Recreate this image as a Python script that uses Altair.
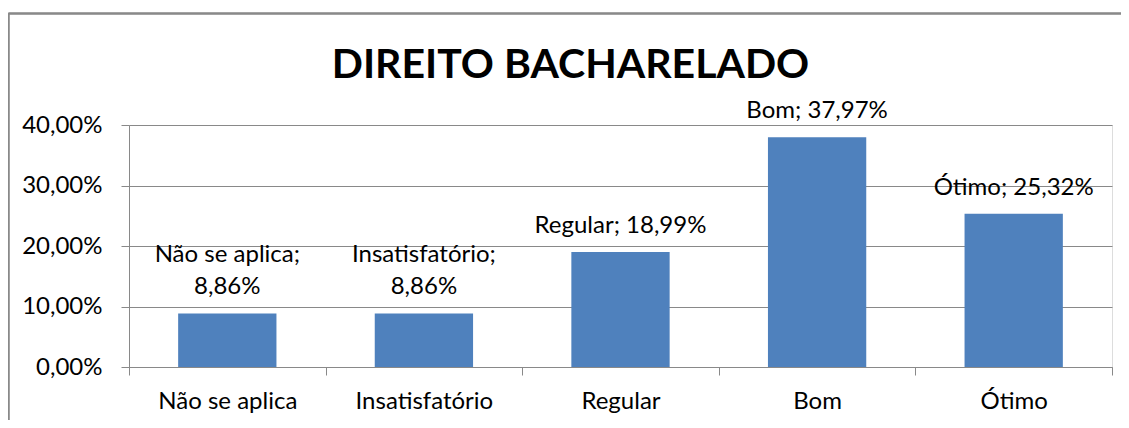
import altair as alt
import pandas as pd

title_text = "DIREITO BACHARELADO"
categories = ["Não se aplica", "Insatisfatório", "Regular", "Bom", "Ótimo"]
values = [8.86, 8.86, 18.99, 37.97, 25.32]
wrap_label = [True, True, False, False, False]
y_ticks = [0, 10, 20, 30, 40]


def fmt(v):
    return f"{v:.2f}".replace(".", ",") + "%"


top_lines = [f"{c};" if w else "" for c, w in zip(categories, wrap_label)]
bottom_lines = [
    fmt(v) if w else f"{c}; {fmt(v)}"
    for c, v, w in zip(categories, values, wrap_label)
]

df = pd.DataFrame(
    {"cat": categories, "val": values, "top": top_lines, "bottom": bottom_lines}
)

W, H = 983, 242
FONT = "Lato"
FS = 24
GRAY = "#898989"

x_enc = alt.X(
    "cat:N",
    sort=categories,
    scale=alt.Scale(paddingInner=0, paddingOuter=0),
    axis=alt.Axis(
        title=None,
        labelAngle=0,
        tickBand="extent",
        tickSize=8,
        tickColor=GRAY,
        domainColor=GRAY,
        labelFont=FONT,
        labelFontSize=FS,
        labelColor="black",
        labelPadding=14,
        grid=False,
    ),
)
y_enc = alt.Y(
    "val:Q",
    scale=alt.Scale(domain=[0, 40], nice=False),
    axis=alt.Axis(
        title=None,
        values=y_ticks,
        labelExpr="replace(format(datum.value, '.2f'), '.', ',') + '%'",
        tickSize=8,
        tickColor=GRAY,
        domainColor=GRAY,
        gridColor=GRAY,
        labelFont=FONT,
        labelFontSize=FS,
        labelColor="black",
        labelPadding=19,
    ),
)

base = alt.Chart(df)

bars = base.mark_bar(color="#4F81BD", width=alt.RelativeBandSize(0.5)).encode(
    x=x_enc, y=y_enc
)

text_bottom = base.mark_text(
    font=FONT, fontSize=FS, color="black", baseline="alphabetic", dy=-19,
).encode(x=alt.X("cat:N", sort=categories), y="val:Q", text="bottom:N")

text_top = base.mark_text(
    font=FONT, fontSize=FS, color="black", baseline="alphabetic", dy=-51,
).encode(x=alt.X("cat:N", sort=categories), y="val:Q", text="top:N")

title_mark = alt.Chart(pd.DataFrame({"t": [title_text]})).mark_text(
    font=FONT, fontSize=41, fontWeight="bold", color="black",
    align="center", baseline="alphabetic",
).encode(x=alt.value(W / 2 - 50), y=alt.value(-47), text="t:N")

border_top = base.mark_rule(color=GRAY, strokeWidth=1.5).encode(
    x=alt.value(-120.5), x2=alt.value(W + 9), y=alt.value(-111.5)
)
border_left = base.mark_rule(color=GRAY, strokeWidth=1.5).encode(
    x=alt.value(-120.5), y=alt.value(-111.5), y2=alt.value(H + 53)
)

chart = (
    alt.layer(bars, text_bottom, text_top, title_mark, border_top, border_left)
    .properties(
        width=W,
        height=H,
        autosize=alt.AutoSizeParams(type="none"),
        padding={"left": 121, "top": 117, "right": 9, "bottom": 53},
    )
    .configure_view(stroke=None)
    .configure(background="white")
)

chart.save("out.html", embed_options={"renderer": "svg", "actions": False})
